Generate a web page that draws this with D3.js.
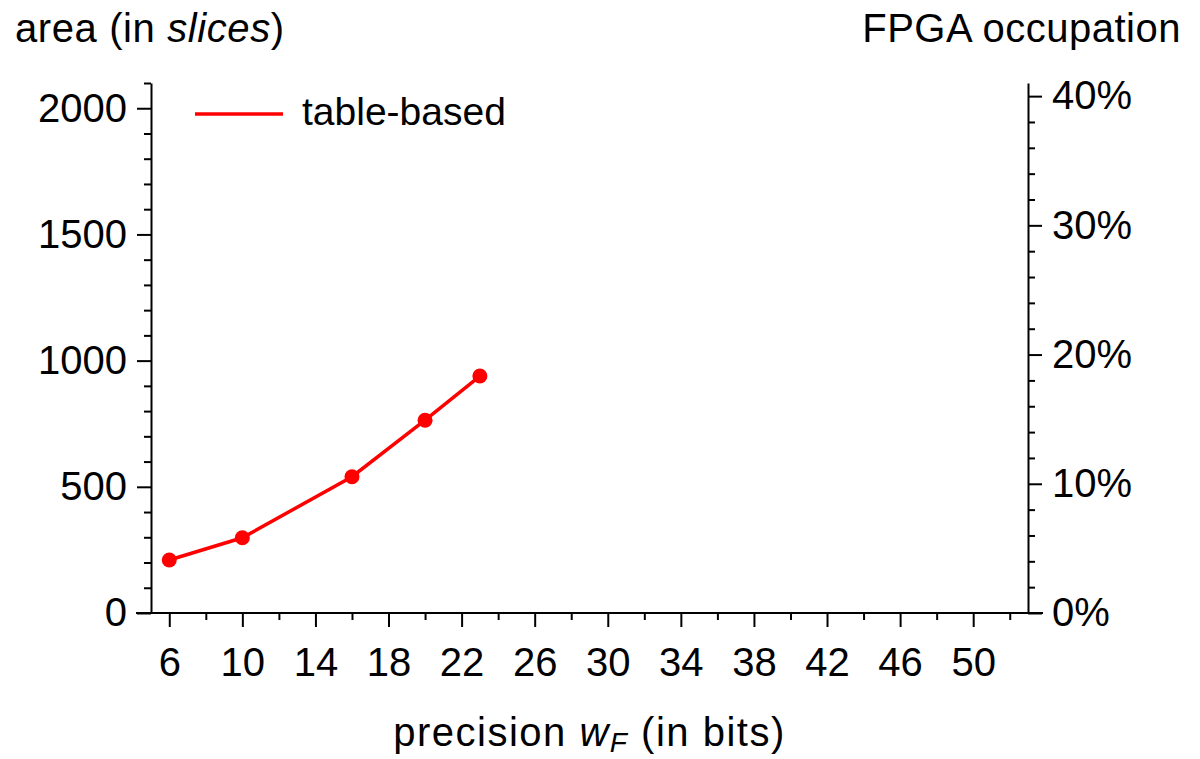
<!DOCTYPE html>
<html>
<head>
<meta charset="utf-8">
<script src="https://cdn.jsdelivr.net/npm/d3@7"></script>
<style>
    body { margin: 0; background: #fff; }
    svg { display: block; font-family: "Liberation Sans", Arial, sans-serif; }
    .axis path, .axis line { stroke: #000; stroke-width: 2; }
    .axis text { font-size: 40px; fill: #000; }
</style>
</head>
<body>
<svg width="1200" height="759"></svg>
<script>
// data
const precision = [6, 10, 16, 20, 23]
const slices = [210, 298, 540, 764, 939]
const seriesName = 'table-based'

const xTicks = d3.range(6, 53, 2)         // major every 4, from 6
const yTicks = d3.range(0, 2101, 100)     // major every 500
const pctTicks = d3.range(0, 0.41, 0.02)  // major every 10%
const totalSlices = 5120

const
    width = 1200,
    height = 759,
    margin = { top: 83, right: 172, bottom: 146, left: 151 }

const svg = d3.select('svg')

const x = d3.scaleLinear()
    .domain([5, 53])
    .range([margin.left, width - margin.right])

const y = d3.scaleLinear()
    .domain([0, 2100])
    .range([height - margin.bottom, margin.top])

const yRight = d3.scaleLinear()
    .domain([0, 2100 / totalSlices])
    .range([height - margin.bottom, margin.top])

const isMajorX = d => (d - 6) % 4 === 0
const isMajorY = d => d % 500 === 0
const isMajorP = d => Math.abs(Math.round(d * 10) - d * 10) < 1e-6

// x axis
svg.append('g')
    .attr('class', 'axis x')
    .attr('transform', `translate(0,${y(0)})`)
    .call(d3.axisBottom(x).tickValues(xTicks).tickSizeOuter(0)
        .tickFormat(d => isMajorX(d) ? d : ''))
    .call(g => g.select('.domain').remove())
    .call(g => g.selectAll('.tick line').attr('y2', d => isMajorX(d) ? 14 : 7))
    .call(g => g.selectAll('.tick text').attr('y', 35).attr('dy', '0.71em'))
    .call(g => g.append('line')
        .attr('x1', x.range()[0] - 15).attr('x2', x.range()[1] + 15)
        .attr('stroke', '#000').attr('stroke-width', 2))

// left axis
svg.append('g')
    .attr('class', 'axis y')
    .attr('transform', `translate(${x.range()[0]},0)`)
    .call(d3.axisLeft(y).tickValues(yTicks).tickSizeOuter(0)
        .tickFormat(d => isMajorY(d) ? d : ''))
    .call(g => g.selectAll('.tick line').attr('x2', d => isMajorY(d) ? -14 : -7))
    .call(g => g.selectAll('.tick text').attr('x', -24))

// right axis
svg.append('g')
    .attr('class', 'axis y2')
    .attr('transform', `translate(${x.range()[1]},0)`)
    .call(d3.axisRight(yRight).tickValues(pctTicks).tickSizeOuter(0)
        .tickFormat(d => isMajorP(d) ? d3.format('.0%')(d) : ''))
    .call(g => g.selectAll('.tick line').attr('x2', d => isMajorP(d) ? 14 : 7))
    .call(g => g.selectAll('.tick text').attr('x', 24))

// titles
svg.append('text')
    .attr('x', 15).attr('y', 42)
    .attr('font-size', 40)
    .attr('letter-spacing', 0.6)
    .call(t => {
        t.append('tspan').text('area (in ')
        t.append('tspan').attr('font-style', 'italic').text('slices')
        t.append('tspan').text(')')
    })

svg.append('text')
    .attr('x', 1181).attr('y', 42)
    .attr('font-size', 40)
    .attr('letter-spacing', 0.5)
    .attr('text-anchor', 'end')
    .text('FPGA occupation')

svg.append('text')
    .attr('x', (x.range()[0] + x.range()[1]) / 2).attr('y', 746)
    .attr('font-size', 40)
    .attr('letter-spacing', 1.5)
    .attr('text-anchor', 'middle')
    .call(t => {
        t.append('tspan').text('precision ')
        t.append('tspan').attr('font-style', 'italic').text('w')
        t.append('tspan').attr('font-style', 'italic').attr('font-size', 28)
            .attr('baseline-shift', '-6').text('F')
        t.append('tspan').text(' (in bits)')
    })

// series
const points = precision.map((p, i) => [p, slices[i]])

svg.append('path')
    .datum(points)
    .attr('fill', 'none')
    .attr('stroke', '#ff0000')
    .attr('stroke-width', 3.5)
    .attr('d', d3.line().x(d => x(d[0])).y(d => y(d[1])))

svg.append('g')
    .selectAll('circle')
    .data(points)
    .enter().append('circle')
    .attr('cx', d => x(d[0]))
    .attr('cy', d => y(d[1]))
    .attr('r', 7.5)
    .attr('fill', '#ff0000')

// legend
const legend = svg.append('g').attr('transform', 'translate(195,114)')
legend.append('line')
    .attr('x1', 0).attr('x2', 88)
    .attr('stroke', '#ff0000').attr('stroke-width', 3.5)
legend.append('text')
    .attr('x', 107).attr('y', 11)
    .attr('font-size', 39)
    .text(seriesName)
</script>
</body>
</html>
